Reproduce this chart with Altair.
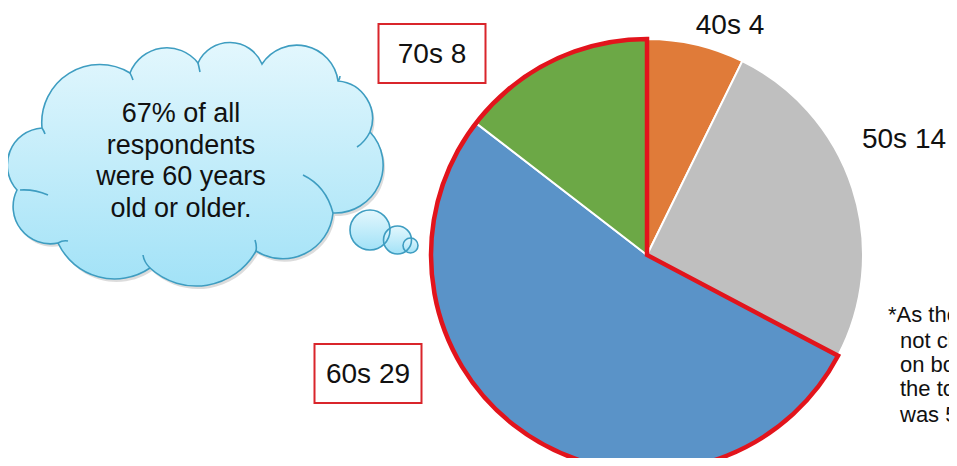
import math
import altair as alt
import pandas as pd

# ---------------- data ----------------
categories = ["40s", "50s", "60s", "70s"]
counts = [4, 14, 29, 8]
highlighted = ["60s", "70s"]          # boxed labels + red outline
slice_colors = ["#E07B39", "#BFBFBF", "#5A93C8", "#6CA846"]

cloud_lines = ["67% of all", "respondents", "were 60 years", "old or older."]
note_lines = ["*As the age", "not clear", "on both", "the  total", "was 55."]

# ---------------- layout / style ----------------
M = 8                       # page margin
W, H = 941, 450
CX, CY, R = 647 - M, 255 - M, 216
FONT = "Liberation Sans"
RED = "#E2141C"
BOX_RED = "#D9252B"

# label anchor (center x, baseline y) in page px
label_pos = {"40s": (730, 34), "50s": (904, 148), "60s": (368, 383), "70s": (432, 63)}
box_half_w, box_up, box_down = 53.5, 39, 20

cloud_text_x = 181
cloud_text_y = [122, 153.5, 185, 217]
note_x = [888, 900, 900, 900, 900]
note_y = [322, 348, 372, 396, 422]

# cloud outline (valleys clockwise, page px) and bulge of each bump
valleys = [(42, 128), (130, 73), (198, 63), (262, 64), (338, 81), (370, 132),
           (333, 213), (256, 251), (150, 268), (58, 243), (17, 190)]
bulges = [32, 20, 21, 27, 15, 30, 24, 26, 22, 21, 21]
creases = [((20, 190), (34, 189), (48, 195)), ((58, 243), (63, 240), (68, 241)),
           ((150, 268), (144, 262), (143, 255)), ((256, 251), (257, 246), (255, 240)),
           ((333, 213), (326, 186), (303, 175)), ((370, 132), (365, 142), (357, 147)),
           ((338, 81), (340, 79), (340, 76)), ((198, 63), (199, 67), (200, 72)),
           ((130, 73), (132, 77), (133, 80)), ((42, 128), (44, 131), (45, 134))]
bubbles = [(370, 230, 20), (397.5, 240, 14), (410.5, 245.5, 7.5)]

CLX, CLY, S = 195, 165, 200.0   # cloud symbol centre and scale


def n(px, py):
    return f"{(px - CLX) / S:.4f} {(py - CLY) / S:.4f}"


def cloud_path():
    parts = [f"M {n(*valleys[0])}"]
    k = len(valleys)
    for i in range(k):
        x0, y0 = valleys[i]
        x1, y1 = valleys[(i + 1) % k]
        c = math.hypot(x1 - x0, y1 - y0)
        h = bulges[i]
        r = (c * c / 4 + h * h) / (2 * h)
        large = 1 if h > c / 2 else 0
        parts.append(f"A {r / S:.4f} {r / S:.4f} 0 {large} 1 {n(x1, y1)}")
    parts.append("Z")
    return " ".join(parts)


def crease_path():
    return " ".join(f"M {n(*a)} Q {n(*b)} {n(*c)}" for a, b, c in creases)


CLOUD = cloud_path()
CREASE = crease_path()
SIZE = (2 * S) ** 2
grad = {"gradient": "linear", "x1": 0, "y1": 0, "x2": 0, "y2": 1,
        "stops": [{"offset": 0, "color": "#E3F7FD"}, {"offset": 1, "color": "#A2E2F7"}]}
CLOUD_STROKE = "#3E9DC1"

one = pd.DataFrame({"k": [0]})

shadow = alt.Chart(one).mark_point(
    shape=CLOUD, size=SIZE, filled=True, fill="#8a8a8a", opacity=0.3, strokeWidth=0
).encode(x=alt.value(CLX - M + 2), y=alt.value(CLY - M + 3))

cloud = alt.Chart(one).mark_point(
    shape=CLOUD, size=SIZE, filled=True, fill=grad, stroke=CLOUD_STROKE,
    strokeWidth=1.6, opacity=1
).encode(x=alt.value(CLX - M), y=alt.value(CLY - M))

crease = alt.Chart(one).mark_point(
    shape=CREASE, size=SIZE, filled=False, stroke=CLOUD_STROKE, strokeWidth=1.6, opacity=1
).encode(x=alt.value(CLX - M), y=alt.value(CLY - M))

bub_df = pd.DataFrame({"x": [b[0] - M for b in bubbles], "y": [b[1] - M for b in bubbles],
                       "s": [4 * b[2] ** 2 for b in bubbles]})
bub_fill = alt.Chart(bub_df).mark_point(shape="circle", filled=True, fill=grad, strokeWidth=0, opacity=1).encode(
    x=alt.X("x:Q", scale=None), y=alt.Y("y:Q", scale=None), size=alt.Size("s:Q", scale=None, legend=None))
bub_stroke = alt.Chart(bub_df).mark_point(shape="circle", filled=False, stroke=CLOUD_STROKE,
                                          strokeWidth=1.6, opacity=1).encode(
    x=alt.X("x:Q", scale=None), y=alt.Y("y:Q", scale=None), size=alt.Size("s:Q", scale=None, legend=None))

ct_df = pd.DataFrame({"t": cloud_lines, "x": [cloud_text_x - M] * len(cloud_lines),
                      "y": [v - M for v in cloud_text_y]})
cloud_text = alt.Chart(ct_df).mark_text(font=FONT, fontSize=27, color="#111111", align="center",
                                        baseline="alphabetic").encode(
    x=alt.X("x:Q", scale=None), y=alt.Y("y:Q", scale=None), text="t:N")

# ---------------- pie ----------------
total = sum(counts)
pie_df = pd.DataFrame({"cat": categories, "count": counts, "order": list(range(len(categories)))})
theta_scale = alt.Scale(domain=[0, total], range=[0, 2 * math.pi])

pie = alt.Chart(pie_df).mark_arc(radius=R, stroke="white", strokeWidth=2).encode(
    theta=alt.Theta("count:Q", stack=True, scale=theta_scale),
    color=alt.Color("cat:N", scale=alt.Scale(domain=categories, range=slice_colors), legend=None),
    order=alt.Order("order:Q"),
    x=alt.value(CX), y=alt.value(CY),
)

hi_start = sum(c for cat, c in zip(categories, counts) if cat not in highlighted)
outline_df = pd.DataFrame({"start": [hi_start], "end": [total]})
outline = alt.Chart(outline_df).mark_arc(
    radius=R, filled=False, stroke=RED, strokeWidth=4.5, strokeJoin="miter"
).encode(
    theta=alt.Theta("start:Q", scale=theta_scale), theta2="end:Q",
    x=alt.value(CX), y=alt.value(CY),
)

lab_df = pd.DataFrame({
    "t": [f"{c} {v}" for c, v in zip(categories, counts)],
    "x": [label_pos[c][0] - M for c in categories],
    "y": [label_pos[c][1] - M for c in categories],
})
labels = alt.Chart(lab_df).mark_text(font=FONT, fontSize=28, color="#111111", align="center",
                                     baseline="alphabetic").encode(
    x=alt.X("x:Q", scale=None), y=alt.Y("y:Q", scale=None), text="t:N")

box_df = pd.DataFrame({
    "x": [label_pos[c][0] - M - box_half_w for c in highlighted],
    "x2": [label_pos[c][0] - M + box_half_w for c in highlighted],
    "y": [label_pos[c][1] - M - box_up for c in highlighted],
    "y2": [label_pos[c][1] - M + box_down for c in highlighted],
})
boxes = alt.Chart(box_df).mark_rect(fill="white", stroke=BOX_RED, strokeWidth=2).encode(
    x=alt.X("x:Q", scale=None), x2="x2:Q", y=alt.Y("y:Q", scale=None), y2="y2:Q")

note_df = pd.DataFrame({"t": note_lines, "x": [v - M for v in note_x], "y": [v - M for v in note_y]})
note = alt.Chart(note_df).mark_text(font=FONT, fontSize=22, color="#111111", align="left",
                                    baseline="alphabetic").encode(
    x=alt.X("x:Q", scale=None), y=alt.Y("y:Q", scale=None), text="t:N")

chart = alt.layer(
    shadow, cloud, crease, bub_fill, bub_stroke, cloud_text,
    pie, outline, boxes, labels, note
).resolve_scale(
    x="independent", y="independent", theta="independent", size="independent"
).properties(
    width=W, height=H, autosize=alt.AutoSizeParams(type="none"), padding=0
).configure_view(stroke=None)

chart.save("out.html", embed_options={"renderer": "svg", "actions": False})
